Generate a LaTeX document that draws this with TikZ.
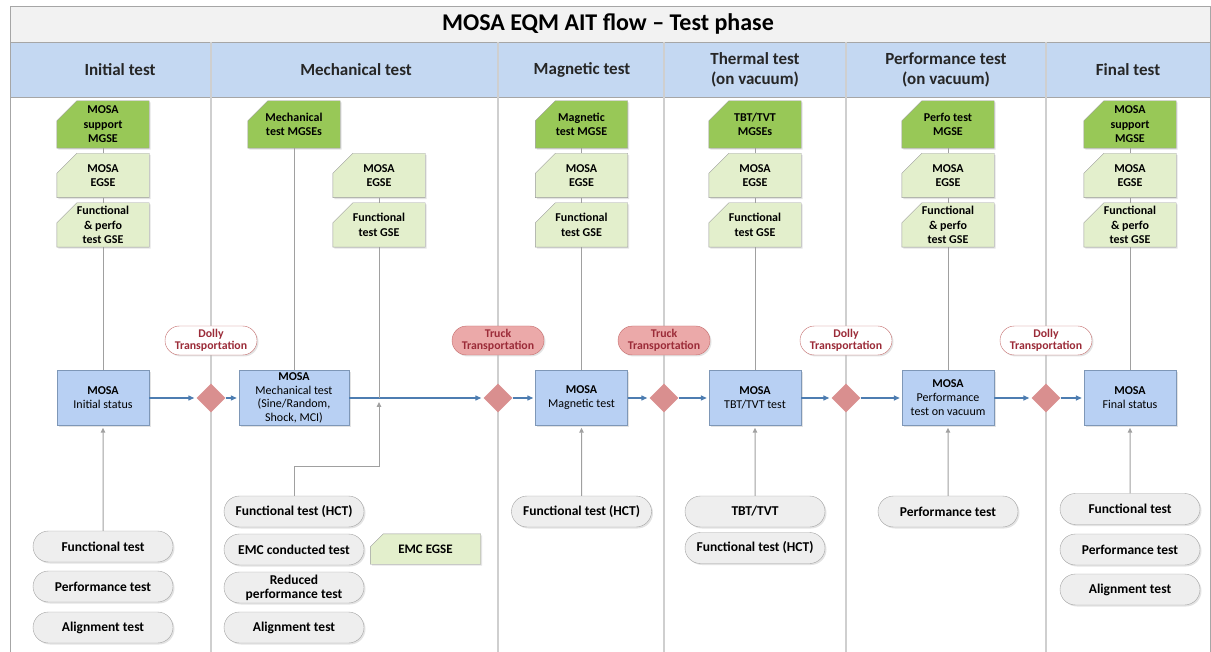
\documentclass[tikz,border=0pt]{standalone}
\usepackage{fontspec}
\setmainfont{Carlito}
\usetikzlibrary{shapes.geometric,shapes.misc,arrows.meta,shadows,backgrounds}
\definecolor{titlegray}{HTML}{F2F2F2}
\definecolor{hdrblue}{HTML}{C4D8F2}
\definecolor{framegray}{HTML}{A6A6A6}
\definecolor{lanegray}{HTML}{CFCFCF}
\definecolor{mgsegreen}{HTML}{98C857}
\definecolor{lgsegreen}{HTML}{E3EFCC}
\definecolor{gseedge}{HTML}{9A9A9A}
\definecolor{mosablue}{HTML}{B8D0F3}
\definecolor{mosaedge}{HTML}{7E97B7}
\definecolor{gatered}{HTML}{D98F8F}
\definecolor{truckpink}{HTML}{EBA9A9}
\definecolor{ovaledge}{HTML}{C46C6C}
\definecolor{ovaltext}{HTML}{9B2B38}
\definecolor{pillfill}{HTML}{EEEEEE}
\definecolor{pilledge}{HTML}{A3A3A3}
\definecolor{flowblue}{HTML}{4D7DB1}
\definecolor{supgray}{HTML}{A0A0A0}
\begin{document}
\begin{tikzpicture}[x=1pt, y=-1pt, every node/.style={align=center, inner sep=0pt, font=\fontsize{12}{14.5}\selectfont\bfseries}]
\tikzset{boxshadow/.style={drop shadow={shadow xshift=1.5pt, shadow yshift=-1.5pt, fill=black!22}},
  gse/.style={rectangle, minimum width=92pt, minimum height=44pt},
  mgse/.style={gse, minimum height=47pt},
  gsedark/.style={draw=gseedge, fill=mgsegreen, boxshadow},
  gselight/.style={gsedark, fill=lgsegreen},
  mosa/.style={rectangle, draw=mosaedge, fill=mosablue, minimum width=92pt, minimum height=55pt, font=\fontsize{12}{14}\selectfont, boxshadow},
  gate/.style={diamond, fill=gatered, minimum width=29pt, minimum height=29pt},
  dolly/.style={rounded rectangle, draw=ovaledge, fill=white, text=ovaltext, minimum width=92pt, minimum height=29pt, font=\fontsize{11.8}{12.5}\selectfont\bfseries, boxshadow},
  truck/.style={dolly, fill=truckpink},
  task/.style={rounded rectangle, draw=pilledge, fill=pillfill, minimum width=140pt, minimum height=31pt, font=\fontsize{13.5}{14}\selectfont\bfseries, boxshadow},
  hdr/.style={font=\fontsize{17}{19.5}\selectfont\bfseries, text=black!85},
  flow/.style={draw=flowblue, line width=1.3pt, -{Triangle[length=6pt,width=5pt]}, shorten >=2pt},
  sup/.style={draw=supgray, line width=1pt},
  supa/.style={sup, -{Triangle[length=5pt,width=4.5pt]}, shorten >=2pt}}
\useasboundingbox (0,0) rectangle (1211,652);
% title band, header band, lanes
\fill[titlegray] (10,7) rectangle (1210,42); \fill[hdrblue] (10,42) rectangle (1210,97);
\draw[framegray] (10,42) -- (1210,42) (10,97) -- (1210,97);
\foreach \x in {211,498,664,846,1046} \draw[lanegray, line width=1.2pt] (\x,42) -- (\x,652);
\draw[framegray, line width=1pt] (10,652) -- (10,7) -- (1210,7) -- (1210,652);
\node[font=\fontsize{24}{26}\selectfont\bfseries] (title) at (608,24) {MOSA EQM AIT flow -- Test phase};
\node[hdr] (h-init) at (120,70) {Initial test}; \node[hdr] (h-mech) at (356,70) {Mechanical test}; \node[hdr] (h-magn) at (582,70) {Magnetic test};
\node[hdr] (h-therm) at (755,70) {Thermal test\\(on vacuum)}; \node[hdr] (h-perf) at (946,70) {Performance test\\(on vacuum)}; \node[hdr] (h-final) at (1128,70) {Final test};
% initial test
\node[mgse] (i-mgse) at (103,124.5) {MOSA\\support\\MGSE}; \node[gse] (i-egse) at (103,175.5) {MOSA\\EGSE}; \node[gse] (i-fgse) at (103,225) {Functional\\\& perfo\\test GSE};
\node[mosa] (i-mosa) at (103,398) {\textbf{MOSA}\\Initial status};
\node[task] (i-t1) at (103,546.5) {Functional test}; \node[task] (i-t2) at (103,586.5) {Performance test}; \node[task] (i-t3) at (103,627.5) {Alignment test};
% mechanical test
\node[mgse] (m-mgse) at (294,124.5) {Mechanical\\test MGSEs}; \node[gse] (m-egse) at (379,175.5) {MOSA\\EGSE}; \node[gse] (m-fgse) at (379,225) {Functional\\test GSE};
\node[mosa, minimum width=110pt, font=\fontsize{12}{13.5}\selectfont] (m-mosa) at (294,398) {\textbf{MOSA}\\Mechanical test\\(Sine/Random,\\Shock, MCI)};
\node[task] (m-t1) at (294,511.5) {Functional test (HCT)}; \node[task] (m-t2) at (294,549.5) {EMC conducted test}; \node[task, font=\fontsize{13.5}{14}\selectfont\bfseries] (m-t3) at (294,587.5) {Reduced\\performance test}; \node[task] (m-t4) at (294,627.5) {Alignment test};
\node[gse, minimum width=110pt, minimum height=30pt, font=\fontsize{13}{14}\selectfont\bfseries] (m-emc) at (425.5,549) {EMC EGSE};
\coordinate (m-tee) at (379,398); \coordinate (m-bend) at (379,466);
% magnetic test
\node[mgse] (g-mgse) at (581.5,124.5) {Magnetic\\test MGSE}; \node[gse] (g-egse) at (581.5,175.5) {MOSA\\EGSE}; \node[gse] (g-fgse) at (581.5,225) {Functional\\test GSE};
\node[mosa] (g-mosa) at (581.5,398) {\textbf{MOSA}\\Magnetic test};
\node[task] (g-t1) at (581.5,511.5) {Functional test (HCT)};
% thermal test
\node[mgse] (t-mgse) at (755,124.5) {TBT/TVT\\MGSEs}; \node[gse] (t-egse) at (755,175.5) {MOSA\\EGSE}; \node[gse] (t-fgse) at (755,225) {Functional\\test GSE};
\node[mosa] (t-mosa) at (755,398) {\textbf{MOSA}\\TBT/TVT test};
\node[task] (t-t1) at (755,511.5) {TBT/TVT}; \node[task] (t-t2) at (755,548) {Functional test (HCT)};
% performance test
\node[mgse] (p-mgse) at (948,124.5) {Perfo test\\MGSE}; \node[gse] (p-egse) at (948,175.5) {MOSA\\EGSE}; \node[gse] (p-fgse) at (948,225) {Functional\\\& perfo\\test GSE};
\node[mosa] (p-mosa) at (948,398) {\textbf{MOSA}\\Performance\\test on vacuum};
\node[task] (p-t1) at (948,511.5) {Performance test};
% final test
\node[mgse] (f-mgse) at (1130,124.5) {MOSA\\support\\MGSE}; \node[gse] (f-egse) at (1130,175.5) {MOSA\\EGSE}; \node[gse] (f-fgse) at (1130,225) {Functional\\\& perfo\\test GSE};
\node[mosa] (f-mosa) at (1130,398) {\textbf{MOSA}\\Final status};
\node[task] (f-t1) at (1130,509) {Functional test}; \node[task] (f-t2) at (1130,549.5) {Performance test}; \node[task] (f-t3) at (1130,589.5) {Alignment test};
% chamfered GSE boxes behind their texts
\begin{scope}[on background layer]
\foreach \n in {i-mgse,m-mgse,g-mgse,t-mgse,p-mgse,f-mgse} \filldraw[gsedark] (\n.south west) -- (\n.south east) -- (\n.north east) -- ([xshift=20pt]\n.north west) -- ([yshift=-20pt]\n.north west) -- cycle;
\foreach \n in {i-egse,i-fgse,m-egse,m-fgse,g-egse,g-fgse,t-egse,t-fgse,p-egse,p-fgse,f-egse,f-fgse} \filldraw[gselight] (\n.south west) -- (\n.south east) -- (\n.north east) -- ([xshift=20pt]\n.north west) -- ([yshift=-20pt]\n.north west) -- cycle;
\filldraw[gselight] (m-emc.south west) -- (m-emc.south east) -- (m-emc.north east) -- ([xshift=13pt]m-emc.north west) -- ([yshift=-13pt]m-emc.north west) -- cycle;
\end{scope}
% transports
\node[gate] (g1) at (211,398) {}; \node[gate] (g2) at (498,398) {}; \node[gate] (g3) at (664,398) {}; \node[gate] (g4) at (846,398) {}; \node[gate] (g5) at (1046,398) {};
\node[dolly] (tr1) at (211,340.5) {Dolly\\Transportation}; \node[truck] (tr2) at (498,340.5) {Truck\\Transportation}; \node[truck] (tr3) at (664,340.5) {Truck\\Transportation};
\node[dolly] (tr4) at (846,340.5) {Dolly\\Transportation}; \node[dolly] (tr5) at (1046,340.5) {Dolly\\Transportation};
% main flow
\draw[flow] (i-mosa) -- (g1); \draw[flow] (g1) -- (m-mosa); \draw[flow] (m-mosa) -- (g2); \draw[flow] (g2) -- (g-mosa); \draw[flow] (g-mosa) -- (g3);
\draw[flow] (g3) -- (t-mosa); \draw[flow] (t-mosa) -- (g4); \draw[flow] (g4) -- (p-mosa); \draw[flow] (p-mosa) -- (g5); \draw[flow] (g5) -- (f-mosa);
% equipment and tests
\foreach \l in {i,g,t,p,f} {\draw[sup] (\l-mgse) -- (\l-egse); \draw[sup] (\l-egse) -- (\l-fgse); \draw[sup] (\l-fgse) -- (\l-mosa); \draw[supa] (\l-t1) -- (\l-mosa);}
\draw[sup] (m-mgse) -- (m-mosa); \draw[sup] (m-egse) -- (m-fgse); \draw[sup] (m-fgse) -- (m-tee);
\draw[supa, shorten >=4pt] (m-t1.north) |- (m-bend) -- (m-tee);
\end{tikzpicture}
\end{document}
